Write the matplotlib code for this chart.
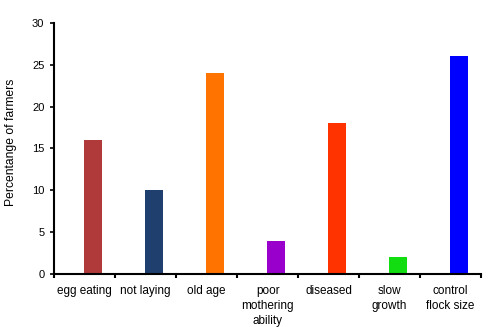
import numpy as np
import matplotlib.pyplot as plt

plt.rcParams['font.family'] = ['Liberation Sans', 'DejaVu Sans']

categories = ['egg eating', 'not laying', 'old age', 'poor\nmothering\nability',
              'diseased', 'slow\ngrowth', 'control\nflock size']
values = [16, 10, 24, 4, 18, 2, 26]
colors = ['#B03A3A', '#1F3F6F', '#FF7300', '#9900CC', '#FF3300', '#11DD11', '#0000FF']

fig = plt.figure(figsize=(4.92, 3.27), dpi=100)
ax = fig.add_axes([0.110, 0.162, 0.868, 0.768])

x = np.arange(len(categories))
# bars sit a little right of the category centre in the original
ax.bar(x + 0.14, values, width=0.30, color=colors, edgecolor='none', zorder=2)

ax.set_xlim(-0.5, len(categories) - 0.5)
ax.set_ylim(0, 30)
ax.set_yticks(np.arange(0, 31, 5))
ax.tick_params(axis='y', labelsize=8, length=3, width=1.2, direction='out', pad=4)

# category labels centred, tick marks on the boundaries
ax.set_xticks(x)
ax.set_xticklabels(categories, fontsize=8.5, linespacing=1.3)
ax.tick_params(axis='x', length=0, pad=8)
ax.set_xticks(np.arange(-0.5, len(categories)), minor=True)
ax.tick_params(axis='x', which='minor', length=3, width=1.5, direction='out')

for side in ['top', 'right']:
    ax.spines[side].set_visible(False)
for side in ['left', 'bottom']:
    ax.spines[side].set_linewidth(1.5)

ax.set_ylabel('Percentange of farmers', fontsize=8.7, va='center')
ax.yaxis.set_label_coords(-0.100, 0.525)

fig.savefig('out.png', dpi=100)
